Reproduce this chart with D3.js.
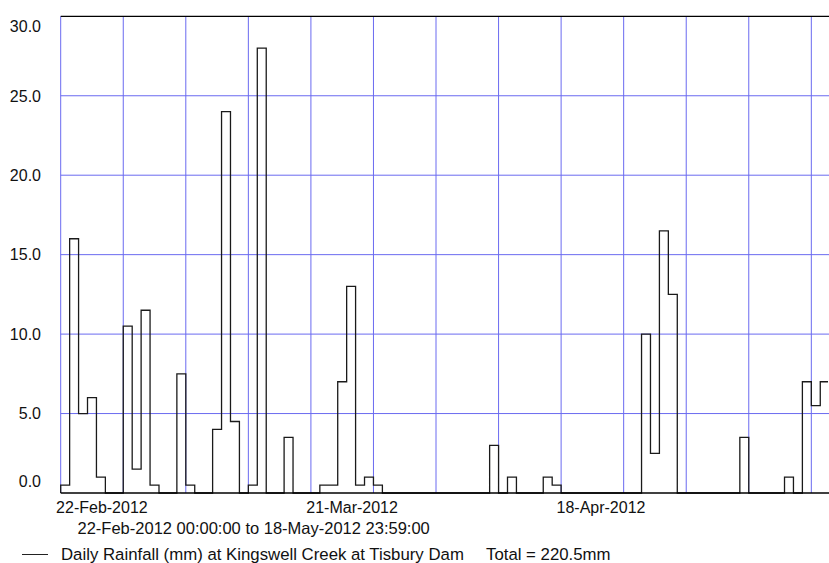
<!DOCTYPE html>
<html>
<head>
<meta charset="utf-8">
<script src="https://cdn.jsdelivr.net/npm/d3@7"></script>
<style>
  html, body { margin: 0; padding: 0; background: #fff; }
  svg { display: block; font-family: "Liberation Sans", Arial, sans-serif; }
</style>
</head>
<body>
<svg id="chart" width="829" height="563"></svg>
<script>
// Daily rainfall (mm), one value per day starting 22-Feb-2012
const startDate = "2012-02-22";
const dayCount = 87;
const rainfall = [
  0.5, 16.0, 5.0, 6.0, 1.0, 0, 0,
  10.5, 1.5, 11.5, 0.5, 0, 0, 7.5,
  0.5, 0, 0, 4.0, 24.0, 4.5, 0,
  0.5, 28.0, 0, 0, 3.5, 0, 0,
  0, 0.5, 0.5, 7.0, 13.0, 0.5, 1.0,
  0.5, 0, 0, 0, 0, 0, 0,
  0, 0, 0, 0, 0, 0, 3.0,
  0, 1.0, 0, 0, 0, 1.0, 0.5,
  0, 0, 0, 0, 0, 0, 0,
  0, 0, 10.0, 2.5, 16.5, 12.5, 0,
  0, 0, 0, 0, 0, 0, 3.5,
  0, 0, 0, 0, 1.0, 0, 7.0,
  5.5, 7.0, 1.5
];
const yTicks = [0, 5, 10, 15, 20, 25, 30];
const xLabelDays = [0, 28, 56];
const gridStepDays = 7;
const rangeText = "22-Feb-2012 00:00:00 to 18-May-2012 23:59:00";
const seriesName = "Daily Rainfall (mm) at Kingswell Creek at Tisbury Dam";
const totalText = "Total = 220.5mm";

const svg = d3.select("#chart");
const W = 829;
const plotLeft = 60.7, plotTop = 16.3, plotBottom = 493;
const dayPx = 8.936;

const t0 = new Date(startDate + "T00:00:00Z");
const tEnd = d3.utcDay.offset(t0, dayCount);

const x = d3.scaleUtc().domain([t0, tEnd]).range([plotLeft, plotLeft + dayCount * dayPx]);
const y = d3.scaleLinear().domain([0, 30]).range([plotBottom, plotTop]);

// the plot runs on past the right edge of the page
svg.append("clipPath").attr("id", "plot-clip")
  .append("rect").attr("x", plotLeft - 1).attr("y", plotTop - 1)
  .attr("width", 828 - (plotLeft - 1)).attr("height", plotBottom - plotTop + 2);

const gridColor = "#6a6af0";
const grid = svg.append("g");

// horizontal gridlines
grid.selectAll("line.h")
  .data(yTicks.filter(v => v > 0 && v < 30))
  .join("line")
  .attr("x1", plotLeft).attr("x2", W)
  .attr("y1", d => y(d)).attr("y2", d => y(d))
  .attr("stroke", gridColor).attr("stroke-width", 1);

// vertical gridlines every week
const gridDays = d3.range(0, dayCount + 1, gridStepDays);
grid.selectAll("line.v")
  .data(gridDays)
  .join("line")
  .attr("x1", d => x(d3.utcDay.offset(t0, d)))
  .attr("x2", d => x(d3.utcDay.offset(t0, d)))
  .attr("y1", plotTop).attr("y2", plotBottom)
  .attr("stroke", gridColor).attr("stroke-width", 1);

// top frame
svg.append("line").attr("x1", plotLeft).attr("x2", W).attr("y1", plotTop).attr("y2", plotTop)
  .attr("stroke", "#000").attr("stroke-width", 1.3);

// step outline of daily totals
const pts = rainfall.map((v, i) => [d3.utcDay.offset(t0, i), v]);
pts.push([tEnd, rainfall[rainfall.length - 1]]);
const stepLine = d3.line()
  .x(d => x(d[0]))
  .y(d => y(d[1]))
  .curve(d3.curveStepAfter);
const outline = [[t0, 0], ...pts, [tEnd, 0]];
svg.append("path")
  .attr("clip-path", "url(#plot-clip)")
  .attr("d", stepLine(outline))
  .attr("fill", "none")
  .attr("stroke", "#1a1a1a")
  .attr("stroke-width", 1.3);

// bottom axis line
svg.append("line").attr("x1", plotLeft).attr("x2", W).attr("y1", plotBottom).attr("y2", plotBottom)
  .attr("stroke", "#000").attr("stroke-width", 1.5);

// y tick labels (end ones kept inside the frame)
svg.selectAll("text.ylab")
  .data(yTicks)
  .join("text")
  .attr("x", 41)
  .attr("y", d => d === 30 ? y(d) + 15.4 : d === 0 ? y(d) - 5.7 : y(d) + 5.8)
  .attr("text-anchor", "end")
  .attr("font-size", 16)
  .attr("fill", "#111")
  .text(d => d3.format(".1f")(d));

// x tick labels
svg.selectAll("text.xlab")
  .data(xLabelDays)
  .join("text")
  .attr("x", d => x(d3.utcDay.offset(t0, d)) - 4.6)
  .attr("y", 513)
  .attr("font-size", 16)
  .attr("fill", "#111")
  .text(d => d3.utcFormat("%d-%b-%Y")(d3.utcDay.offset(t0, d)));

svg.append("text")
  .attr("x", 77.5).attr("y", 534)
  .attr("font-size", 16.5).attr("fill", "#111")
  .text(rangeText);

// legend
svg.append("line").attr("x1", 22).attr("x2", 48).attr("y1", 554.5).attr("y2", 554.5)
  .attr("stroke", "#222").attr("stroke-width", 1);
svg.append("text").attr("x", 61).attr("y", 560)
  .attr("font-size", 16.8).attr("fill", "#111").text(seriesName);
svg.append("text").attr("x", 486).attr("y", 560)
  .attr("font-size", 16.8).attr("fill", "#111").text(totalText);
</script>
</body>
</html>
